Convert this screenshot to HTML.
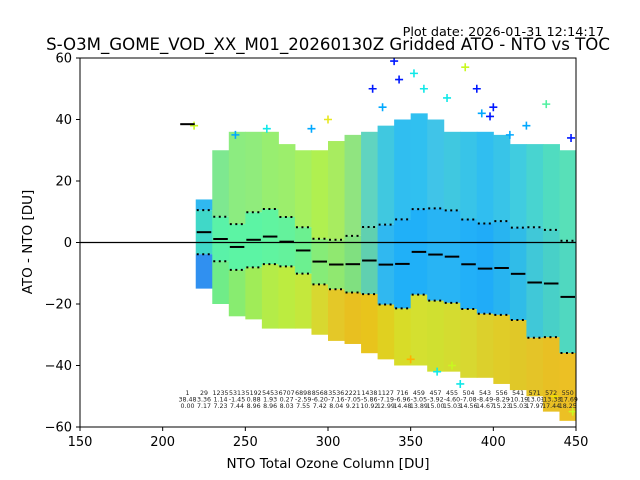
<!DOCTYPE html>
<html><head><meta charset="utf-8"><style>
body{margin:0;background:#fff}
svg{display:block;font-family:"DejaVu Sans","Liberation Sans",sans-serif}
</style></head><body>
<svg id="chart" width="640" height="480" viewBox="0 0 640 480">
<text x="604" y="36" text-anchor="end" font-size="12.8">Plot date: 2026-01-31 12:14:17</text>
<text x="328" y="50" text-anchor="middle" font-size="16.6">S-O3M_GOME_VOD_XX_M01_20260130Z Gridded ATO - NTO vs TOC</text>
<defs><clipPath id="plotclip"><rect x="80" y="58" width="496" height="369"/></clipPath></defs>
<g id="cloud" clip-path="url(#plotclip)"></g>
<g id="outliers" clip-path="url(#plotclip)"></g>
<line x1="80" x2="576" y1="242.5" y2="242.5" stroke="#000" stroke-width="1.2"/>
<g id="stats"></g>
<g id="labels" font-size="6.3" fill="#222"></g>
<rect x="80" y="58" width="496" height="369" fill="none" stroke="#000" stroke-width="1"/>
<g id="axes" font-size="13"></g>
<text x="328" y="468" text-anchor="middle" font-size="13.5">NTO Total Ozone Column [DU]</text>
<text transform="translate(32,242) rotate(-90)" text-anchor="middle" font-size="13.5">ATO - NTO [DU]</text>
</svg>
<script>
const binStarts=[210,220,230,240,250,260,270,280,290,300,310,320,330,340,350,360,370,380,390,400,410,420,430,440];
const counts=[1,29,1235,5313,5192,5453,6707,6898,8568,3536,2221,1438,1127,716,459,457,455,504,543,556,541,571,572,550];
const means=[38.48,3.36,1.14,-1.45,0.88,1.93,0.27,-2.59,-6.20,-7.16,-7.05,-5.86,-7.19,-6.96,-3.05,-3.92,-4.60,-7.08,-8.49,-8.29,-10.19,-13.01,-13.33,-17.69];
const stds=[0.00,7.17,7.23,7.44,8.96,8.96,8.03,7.55,7.42,8.04,9.21,10.92,12.99,14.48,13.89,15.00,15.03,14.56,14.67,15.23,15.03,17.97,17.44,18.25];
const cloudTop=[39,14,30,36,36,36,32,30,30,33,35,36,38,40,42,40,36,36,36,35,32,32,32,30];
const cloudBottom=[38,-15,-20,-24,-25,-28,-28,-28,-30,-32,-33,-36,-38,-40,-40,-42,-42,-44,-44,-46,-48,-50,-55,-58];
const upperColor=["#c8f820","#30b8f0","#7ee890","#8cec80","#90ec7c","#98ee70","#9cee6c","#a6f060","#b0f050","#a8ec60","#90e480","#60d4c0","#40c8e0","#30bef0","#30c0f0","#40c4e8","#40c8e0","#38c4e8","#30bef0","#38c4e8","#40cce0","#48d4d0","#50dcc0","#58e0b8"];
const midColor=["#c8f820","#40d8c8","#5af2a8","#5cf4a4","#5cf4a4","#60f4a0","#64f29c","#6cf090","#86ec78","#90e870","#80e080","#60d0b0","#30b8f0","#20b0f8","#20b0f8","#28b4f4","#28b4f4","#22b0f8","#20acf8","#28b4f0","#30bce8","#40c8d8","#48d0c8","#50d8c0"];
const lowerColor=["#c8f820","#3090f0","#70ec88","#88ec70","#a0ec58","#b4ec48","#bcec40","#c4e83c","#d8d830","#e4c828","#e8c020","#e8c41c","#e0d020","#d8dc28","#d4e030","#d0e030","#d4dc30","#d8d830","#dcd02c","#e0cc28","#e0c828","#e4c428","#e8c024","#ecc024"];
const outX=[219,340,343,352,358,372,383,390,393,398,400,410,420,432,447,327,333,300,290,263,244,350,366,380,375,437,448];
const outY=[38,59,53,55,50,47,57,50,42,41,44,35,38,45,34,50,44,40,37,37,35,-38,-42,-46,-40,-50,-55];
const outC=["#c8f820","#0018ff","#0018ff","#10e8e8","#10e8e8","#10e8e8","#c8f820","#0018ff","#00a8ff","#0018ff","#0018ff","#00a8ff","#00a8ff","#50f0a0","#0018ff","#0018ff","#00a8ff","#e8e820","#00a8ff","#10e8e8","#00a8ff","#ffb000","#10e8e8","#10e8e8","#c8f820","#f0e000","#c8f820"];
const xTicks=[150,200,250,300,350,400,450];
const yTicks=[-60,-40,-20,0,20,40,60];
const binWidth=10;

const NS="http://www.w3.org/2000/svg";
function xs(v){return 80+(v-150)*496/300;}
function ys(v){return 242.5-v*369/120;}
function mk(tag,attrs,parent){const e=document.createElementNS(NS,tag);for(const k in attrs)e.setAttribute(k,attrs[k]);parent.appendChild(e);return e;}

const cloud=document.getElementById('cloud');
const stats=document.getElementById('stats');
const labels=document.getElementById('labels');
const outG=document.getElementById('outliers');
const axes=document.getElementById('axes');

for(let i=1;i<binStarts.length;i++){
  const x0=xs(binStarts[i]),x1=xs(binStarts[i]+binWidth);
  const hi=means[i]+stds[i],lo=means[i]-stds[i];
  const segs=[[cloudTop[i],hi,upperColor[i]],[hi,lo,midColor[i]],[lo,cloudBottom[i],lowerColor[i]]];
  segs.forEach(s=>{
    const r=mk('rect',{x:x0,y:ys(s[0]),width:x1-x0+0.5,height:Math.max(0,ys(s[1])-ys(s[0])),fill:s[2]},cloud);
    
    
  });
}
for(let i=0;i<outX.length;i++){
  const cx=xs(outX[i]),cy=ys(outY[i]);
  const p=mk('path',{d:`M${cx-4},${cy}H${cx+4}M${cx},${cy-4}V${cy+4}`,stroke:outC[i],'stroke-width':1.6,fill:'none'},outG);
  
  
}
for(let i=0;i<binStarts.length;i++){
  const x0=xs(binStarts[i])+1,x1=xs(binStarts[i]+binWidth)-1;
  const m=mk('line',{x1:x0,x2:x1,y1:ys(means[i]),y2:ys(means[i]),stroke:'#000','stroke-width':2},stats);
  
  
  if(stds[i]>0){
    [means[i]+stds[i],means[i]-stds[i]].forEach(v=>{
      const d=mk('line',{x1:x0,x2:x1,y1:ys(v),y2:ys(v),stroke:'#000','stroke-width':2,'stroke-dasharray':'2,3.5'},stats);
      
      
    });
  }
  const cx=xs(binStarts[i]+binWidth/2);
  const rows=[String(counts[i]),means[i].toFixed(2),stds[i].toFixed(2)];
  rows.forEach((t,k)=>{
    const tx=mk('text',{x:cx,y:395+k*6.6,'text-anchor':'middle'},labels);
    tx.textContent=t;
    
    
  });
}
xTicks.forEach(v=>{
  const x=xs(v);
  const t=mk('line',{x1:x,x2:x,y1:427,y2:431,stroke:'#000'},axes);
  
  
  const l=mk('text',{x:x,y:446,'text-anchor':'middle'},axes);
  l.textContent=v;
  
  
});
yTicks.forEach(v=>{
  const y=ys(v);
  const t=mk('line',{x1:76,x2:80,y1:y,y2:y,stroke:'#000'},axes);
  
  
  const l=mk('text',{x:72,y:y+4.5,'text-anchor':'end'},axes);
  l.textContent=(v<0?'\u2212'+(-v):v);
  
  
});
</script>
</body></html>
